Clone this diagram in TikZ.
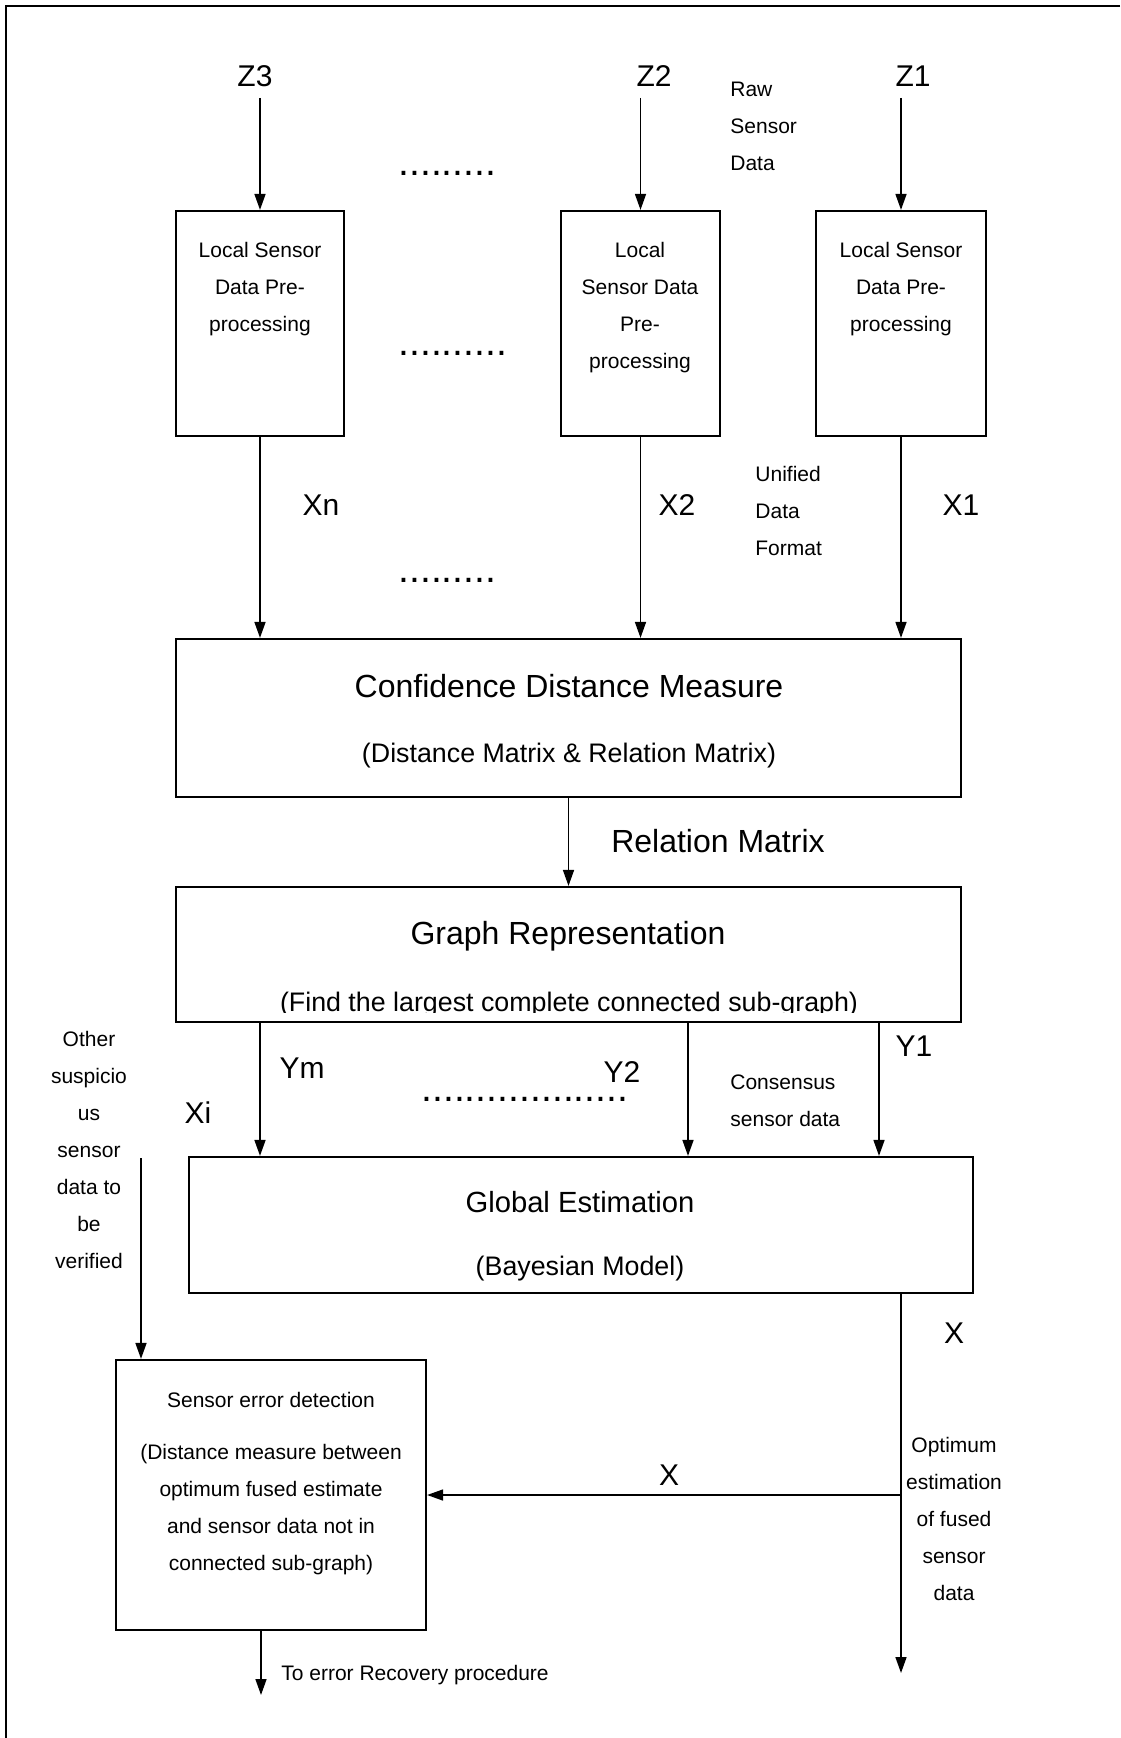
\documentclass[tikz,border=0pt]{standalone}
\usepackage{fontspec}
\setmainfont{Liberation Sans}
\usetikzlibrary{arrows.meta}
\begin{document}
\begin{tikzpicture}[x=0.5pt,y=-0.5pt,
  box/.style={draw,line width=1.1pt,inner sep=0pt},
  arr/.style={line width=0.8pt,-{Triangle[length=8pt,width=5.5pt]}},
  small/.style={font=\fontsize{10.5}{18.5}\selectfont,align=center,inner sep=0pt},
  big/.style={font=\fontsize{15}{18}\selectfont,inner sep=0pt,anchor=base},
  title/.style={font=\fontsize{16}{19}\selectfont,inner sep=0pt,anchor=base},
  subt/.style={font=\fontsize{13.4}{16}\selectfont,inner sep=0pt,anchor=base},
  dots/.style={font=\fontsize{19.6}{20}\selectfont,inner sep=0pt,anchor=base west},
]
\useasboundingbox (0,0) rectangle (1120,1738);

% outer frame (top and left edges)
\draw[line width=1pt] (1120,6) -- (6,6) -- (6,1738);

% processing blocks
\node[box,minimum width=84pt,minimum height=112.5pt] (pre3) at (260,323.5) {};
\node[box,minimum width=79.5pt,minimum height=112.5pt] (pre2) at (640.5,323.5) {};
\node[box,minimum width=85pt,minimum height=112.5pt] (pre1) at (901,323.5) {};
\node[box,minimum width=392.5pt,minimum height=79pt] (cdm) at (568.5,718) {};
\node[box,minimum width=392.5pt,minimum height=67.5pt] (gr) at (568.5,954.5) {};
\node[box,minimum width=392pt,minimum height=68pt] (ge) at (581,1225) {};
\node[box,minimum width=155pt,minimum height=135pt] (sed) at (271,1495) {};

% block texts
\node[small] (t3) at (260,289) {Local Sensor\\Data Pre-\\processing};
\node[small] (t2) at (640,308) {Local\\Sensor Data\\Pre-\\processing};
\node[small] (t1) at (901,289) {Local Sensor\\Data Pre-\\processing};
\node[title] (cdmt) at (569,697) {Confidence Distance Measure};
\node[subt] (cdms) at (569,762) {(Distance Matrix \& Relation Matrix)};
\node[title] (grt) at (568,944) {Graph Representation};
\begin{scope}
  \clip (176,887) rectangle (961,1012);
  \node[subt] (grs) at (569,1011) {(Find the largest complete connected sub-graph)};
\end{scope}
\node[big,font=\fontsize{14.6}{18}\selectfont] (get) at (580,1212) {Global Estimation};
\node[subt] (ges) at (580,1275) {(Bayesian Model)};
\node[small,anchor=base] (sedt) at (271,1407) {Sensor error detection};
\node[small] (sedb) at (271,1510) {(Distance measure between\\optimum fused estimate\\and sensor data not in\\connected sub-graph)};

% signal labels
\node[big] (z3) at (255,87) {Z3};
\node[big] (z2) at (654,87) {Z2};
\node[big] (z1) at (913,87) {Z1};
\node[big] (xn) at (321,515) {Xn};
\node[big] (x2) at (677,515) {X2};
\node[big] (x1) at (961,515) {X1};
\node[title] (relm) at (718,852) {Relation Matrix};
\node[big] (ym) at (302,1078) {Ym};
\node[big] (y2) at (622,1082) {Y2};
\node[big] (y1) at (914,1056) {Y1};
\node[big] (xi) at (198,1123) {Xi};
\node[big] (xa) at (954,1343) {X};
\node[big] (xb) at (669,1485) {X};

% side notes
\node[small,align=left,anchor=west] (raw) at (730,126.5) {Raw\\Sensor\\Data};
\node[small,align=left,anchor=west] (unif) at (755,510.5) {Unified\\Data\\Format};
\node[small,align=left,anchor=west] (cons) at (730,1101) {Consensus\\sensor data};
\node[small] (other) at (89,1150) {Other\\suspicio\\us\\sensor\\data to\\be\\verified};
\node[small] (opt) at (954,1519) {Optimum\\estimation\\of fused\\sensor\\data};
\node[small,anchor=base west] (recl) at (281,1680) {To error Recovery procedure};

% ellipses between channels
\node[dots] (d1) at (398,176) {.........};
\node[dots] (d2) at (398,356) {..........};
\node[dots] (d3) at (398,582) {.........};
\node[dots] (d4) at (421,1101) {...................};

% connectors
\draw[arr] ([yshift=-5.5pt]z3.base -| pre3.north) -- (pre3.north);
\draw[arr] ([yshift=-5.5pt]z2.base -| pre2.north) -- (pre2.north);
\draw[arr] ([yshift=-5.5pt]z1.base -| pre1.north) -- (pre1.north);
\draw[arr] (pre3.south) -- (pre3.south |- cdm.north);
\draw[arr] (pre2.south) -- (pre2.south |- cdm.north);
\draw[arr] (pre1.south) -- (pre1.south |- cdm.north);
\draw[arr] (cdm.south) -- (gr.north);
\draw[arr] (gr.south -| pre3.south) -- (ge.north -| pre3.south);
\draw[arr] ([xshift=59.75pt]gr.south) -- ([xshift=59.75pt]gr.south |- ge.north);
\draw[arr] ([xshift=155.25pt]gr.south) -- ([xshift=155.25pt]gr.south |- ge.north);
\coordinate (vin) at (141,1158);
\draw[arr] (vin) -- (vin |- sed.north);
\coordinate (xout) at (901,1673);
\draw[arr] (ge.south -| xout) -- (xout);
\draw[arr] (sed.east -| xout) -- (sed.east);
\coordinate (rec) at (261,1695);
\draw[arr] (sed.south -| rec) -- (rec);
\end{tikzpicture}
\end{document}
